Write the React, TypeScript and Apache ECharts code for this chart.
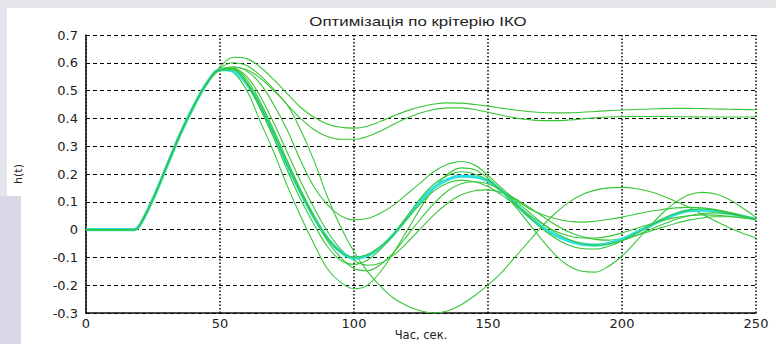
import React, { useEffect, useRef } from "react";
import * as echarts from "echarts";

// time grid (seconds)
const T = [0, 5, 10, 15, 18, 20, 25, 30, 35, 40, 45,
  50, 55, 60, 65, 70, 75, 80, 85, 90, 95,
  100, 105, 110, 115, 120, 125, 130, 135, 140, 145,
  150, 155, 160, 165, 170, 175, 180, 185, 190, 195,
  200, 205, 210, 215, 220, 225, 230, 235, 240, 245, 250];

// common rising part (t = 0..45)
const RISE = [0, 0, 0, 0, 0, 0.015, 0.11, 0.225, 0.34, 0.44, 0.525];

// responses from t = 50 to 250
const CYAN = [0.575, 0.57, 0.525, 0.445, 0.345, 0.235, 0.135, 0.045, -0.03, -0.08,
  -0.103, -0.094, -0.063, -0.015, 0.045, 0.105, 0.152, 0.18, 0.192, 0.19,
  0.175, 0.14, 0.095, 0.05, 0.01, -0.02, -0.04, -0.052, -0.056, -0.05,
  -0.035, -0.012, 0.012, 0.035, 0.055, 0.068, 0.07, 0.066, 0.058, 0.048,
  0.037];
const G_A = [0.585, 0.62, 0.615, 0.585, 0.54, 0.49, 0.44, 0.405, 0.38, 0.368,
  0.365, 0.372, 0.39, 0.41, 0.428, 0.442, 0.452, 0.456, 0.455, 0.45,
  0.444, 0.437, 0.43, 0.425, 0.421, 0.42, 0.42, 0.422, 0.425, 0.428,
  0.43, 0.432, 0.434, 0.435, 0.436, 0.436, 0.435, 0.434, 0.433, 0.432,
  0.431];
const G_B = [0.58, 0.6, 0.59, 0.555, 0.505, 0.45, 0.4, 0.36, 0.335, 0.325,
  0.325, 0.335, 0.355, 0.38, 0.402, 0.42, 0.432, 0.438, 0.438, 0.432,
  0.422, 0.412, 0.402, 0.396, 0.392, 0.392, 0.394, 0.398, 0.402, 0.405,
  0.406, 0.407, 0.407, 0.407, 0.406, 0.406, 0.405, 0.405, 0.405, 0.405,
  0.405];
const G_C = [0.575, 0.585, 0.57, 0.525, 0.45, 0.36, 0.25, 0.155, 0.09, 0.05,
  0.035, 0.04, 0.06, 0.09, 0.13, 0.17, 0.21, 0.235, 0.245, 0.232,
  0.195, 0.15, 0.11, 0.078, 0.055, 0.04, 0.03, 0.027, 0.03, 0.037,
  0.045, 0.055, 0.065, 0.072, 0.078, 0.08, 0.078, 0.072, 0.062, 0.05,
  0.037];
const G_D = [0.575, 0.585, 0.575, 0.545, 0.5, 0.45, 0.36, 0.25, 0.12, 0.01,
  -0.08, -0.15, -0.205, -0.248, -0.275, -0.293, -0.3, -0.292, -0.27, -0.238,
  -0.2, -0.155, -0.1, -0.045, 0.01, 0.058, 0.097, 0.125, 0.142, 0.15,
  0.152, 0.148, 0.138, 0.122, 0.102, 0.08, 0.055, 0.03, 0.007, -0.013,
  -0.03];
const G_E = [0.575, 0.565, 0.5, 0.39, 0.28, 0.16, 0.05, -0.05, -0.14, -0.19,
  -0.213, -0.2, -0.15, -0.08, 0.0, 0.08, 0.15, 0.2, 0.222, 0.215,
  0.185, 0.14, 0.085, 0.025, -0.035, -0.09, -0.13, -0.15, -0.153, -0.132,
  -0.095, -0.045, 0.008, 0.058, 0.098, 0.125, 0.134, 0.128, 0.108, 0.078,
  0.045];
const G_F = [0.575, 0.575, 0.525, 0.435, 0.33, 0.215, 0.11, 0.02, -0.06, -0.11,
  -0.125, -0.11, -0.07, -0.015, 0.05, 0.115, 0.165, 0.195, 0.208, 0.2,
  0.178, 0.14, 0.095, 0.048, 0.005, -0.03, -0.055, -0.068, -0.07, -0.06,
  -0.04, -0.015, 0.012, 0.038, 0.058, 0.07, 0.074, 0.07, 0.06, 0.048,
  0.035];
const G_G = [0.575, 0.578, 0.54, 0.46, 0.36, 0.25, 0.145, 0.05, -0.04, -0.1,
  -0.14, -0.148, -0.125, -0.08, -0.02, 0.04, 0.095, 0.14, 0.165, 0.172,
  0.165, 0.14, 0.105, 0.065, 0.025, -0.01, -0.035, -0.05, -0.056, -0.052,
  -0.04, -0.022, -0.002, 0.018, 0.036, 0.05, 0.058, 0.06, 0.056, 0.048,
  0.038];
const G_H = [0.575, 0.58, 0.55, 0.48, 0.385, 0.28, 0.175, 0.08, -0.005, -0.07,
  -0.11, -0.128, -0.12, -0.09, -0.045, 0.005, 0.055, 0.095, 0.125, 0.14,
  0.143, 0.133, 0.112, 0.082, 0.05, 0.018, -0.008, -0.025, -0.035, -0.038,
  -0.033, -0.022, -0.008, 0.008, 0.022, 0.034, 0.042, 0.046, 0.046, 0.043,
  0.038];
const G_I = [0.575, 0.575, 0.53, 0.445, 0.345, 0.235, 0.135, 0.045, -0.03, -0.08,
  -0.1, -0.09, -0.06, -0.015, 0.04, 0.095, 0.14, 0.168, 0.178, 0.172,
  0.155, 0.125, 0.09, 0.055, 0.022, -0.005, -0.022, -0.03, -0.03, -0.024,
  -0.012, 0.003, 0.018, 0.032, 0.043, 0.05, 0.053, 0.052, 0.048, 0.042,
  0.036];

const TITLE = "Оптимізація по крітерію ІКО";
const X_NAME = "Час, сек.";
const Y_NAME = "h(t)";

const GREEN = "#38c638";
const CYAN_COLOR = "#2ee0e0";
const FONT = "DejaVu Sans";

const toData = (tail: number[]) => {
  const vals = RISE.concat(tail);
  return T.map((t, i) => [t, vals[i]]);
};

export default function App() {
  const ref = useRef<HTMLDivElement>(null);

  useEffect(() => {
    if (!ref.current) return;
    const chart = echarts.init(ref.current, null, { renderer: "svg", width: 776, height: 344 });

    const green = (name: string, tail: number[]) => ({
      name,
      type: "line",
      data: toData(tail),
      showSymbol: false,
      smooth: 0.35,
      lineStyle: { color: GREEN, width: 1.1 },
      z: 3,
    });

    chart.setOption({
      animation: false,
      backgroundColor: "#ffffff",
      graphic: [
        { type: "rect", shape: { x: 0, y: 0, width: 776, height: 8 }, style: { fill: "#e7e7eb" }, z: -10 },
        { type: "rect", shape: { x: 0, y: 0, width: 7, height: 196 }, style: { fill: "#e4e4ea" }, z: -10 },
        { type: "rect", shape: { x: 0, y: 196, width: 21, height: 148 }, style: { fill: "#d9d7e6" }, z: -10 },
        {
          type: "text",
          x: 418,
          y: 22,
          scaleX: 1.35,
          z: 10,
          style: {
            text: TITLE,
            fontFamily: "Liberation Sans",
            fontSize: 12.5,
            fill: "#222",
            textAlign: "center",
            textVerticalAlign: "middle",
          },
        },
      ],
      grid: { left: 86, right: 20, top: 35, bottom: 31, containLabel: false, outerBoundsMode: "none" },
      xAxis: {
        type: "value",
        min: 0,
        max: 250,
        interval: 50,
        name: X_NAME,
        nameLocation: "middle",
        nameGap: 16,
        nameMoveOverlap: false,
        nameTextStyle: { fontFamily: FONT, fontSize: 11.5, color: "#222", verticalAlign: "top" },
        axisLine: { show: true, onZero: false, lineStyle: { color: "#111", width: 1.5 } },
        axisTick: { show: false },
        axisLabel: { fontFamily: FONT, fontSize: 13, color: "#222", margin: 4 },
        splitLine: { show: true, lineStyle: { color: "#000", width: 1.5, type: [1.5, 2] } },
      },
      yAxis: {
        type: "value",
        min: -0.3,
        max: 0.7,
        interval: 0.1,
        name: Y_NAME,
        nameLocation: "middle",
        nameGap: 62,
        nameRotate: 90,
        nameTextStyle: { fontFamily: FONT, fontSize: 11, color: "#222" },
        axisLine: { show: true, onZero: false, lineStyle: { color: "#111", width: 1.5 } },
        axisTick: { show: false },
        axisLabel: {
          fontFamily: FONT,
          fontSize: 13,
          color: "#222",
          margin: 8,
          formatter: (v: number) => String(Number(v.toFixed(1))),
        },
        splitLine: { show: true, lineStyle: { color: "#000", width: 1, type: [4, 3] } },
      },
      series: [
        green("A", G_A),
        green("B", G_B),
        green("D", G_D),
        green("E", G_E),
        green("H", G_H),
        {
          name: "main",
          type: "line",
          data: toData(CYAN),
          showSymbol: false,
          smooth: 0.35,
          lineStyle: { color: CYAN_COLOR, width: 3.2 },
          z: 4,
        },
        { ...green("C", G_C), z: 5 },
        { ...green("F", G_F), z: 5 },
        { ...green("G", G_G), z: 5 },
        { ...green("I", G_I), z: 5 },
      ],
    });

    return () => chart.dispose();
  }, []);

  return (
    <div
      ref={ref}
      style={{ position: "fixed", left: 0, top: 0, width: 776, height: 344 }}
    />
  );
}
